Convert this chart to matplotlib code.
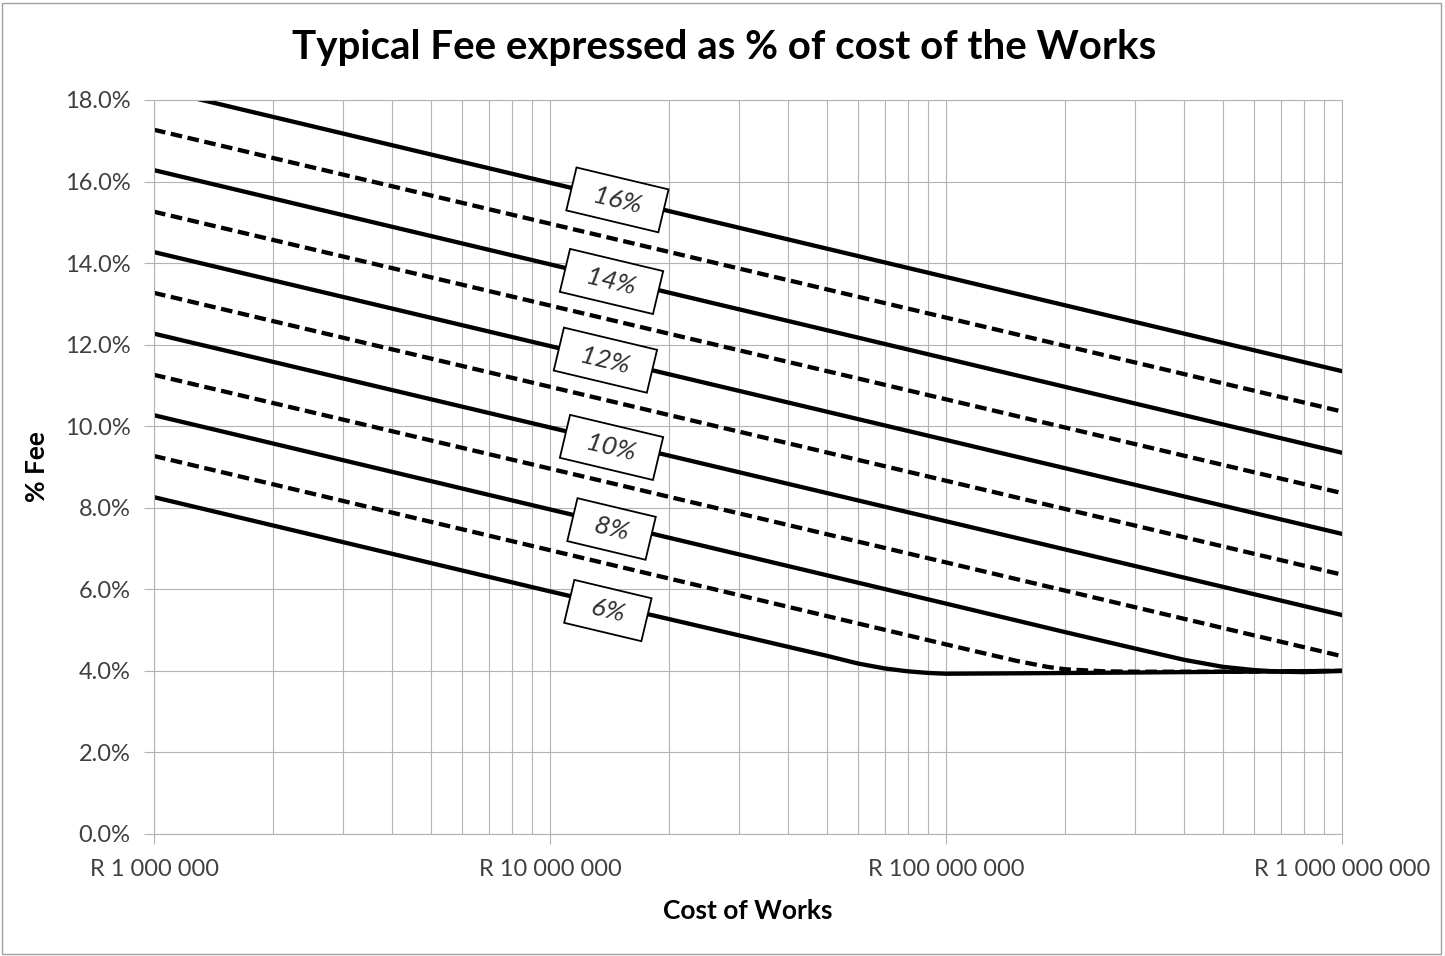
import matplotlib
matplotlib.use("Agg")
import matplotlib.pyplot as plt
from matplotlib.patches import Rectangle
from matplotlib.ticker import FixedLocator, FuncFormatter, LogLocator, NullFormatter

# ---- data (cost in Rand, fee in %) ----
cost_ends = [1e6, 1e9]
straight_lines = [
    [18.28, 11.35],
    [17.27, 10.36],
    [16.28, 9.35],
    [15.26, 8.36],
    [14.27, 7.36],
    [13.27, 6.36],
    [12.27, 5.37],
    [11.26, 4.36],
]
straight_dashed = [False, True, False, True, False, True, False, True]

# the three lowest curves bend onto the 4 % floor
cost_10 = [1e6, 1e7, 1e8, 2e8, 3e8, 4e8, 5e8, 6e8, 7e8, 8e8, 1e9]
fee_10 = [10.27, 7.96, 5.65, 4.95, 4.55, 4.27, 4.10, 4.02, 3.98, 3.97, 4.00]
cost_9 = [1e6, 1e7, 1e8, 1.2e8, 1.5e8, 1.8e8, 2e8, 2.5e8, 3e8, 5e8, 1e9]
fee_9 = [9.27, 6.96, 4.65, 4.47, 4.25, 4.10, 4.04, 3.99, 3.98, 3.98, 4.00]
cost_8 = [1e6, 1e7, 5e7, 6e7, 7e7, 8e7, 9e7, 1e8, 1.5e8, 3e8, 1e9]
fee_8 = [8.26, 5.95, 4.37, 4.18, 4.06, 3.99, 3.95, 3.93, 3.94, 3.96, 4.00]

labels = ["16%", "14%", "12%", "10%", "8%", "6%"]
label_cost = [1.48e7, 1.43e7, 1.38e7, 1.43e7, 1.43e7, 1.40e7]
label_fee = [15.55, 13.55, 11.62, 9.48, 7.48, 5.48]

title = "Typical Fee expressed as % of cost of the Works"
xlabel = "Cost of Works"
ylabel = "% Fee"

plt.rcParams["font.family"] = ["Lato", "DejaVu Sans"]

fig = plt.figure(figsize=(14.45, 9.56), dpi=100)
ax = fig.add_axes([154 / 1445, 1 - 834 / 956, (1342 - 154) / 1445, (834 - 100) / 956])

lw = 3.1
dash = (0, (2.7, 1.3))
for vals, d in zip(straight_lines, straight_dashed):
    ax.plot(cost_ends, vals, color="black", lw=lw, linestyle=dash if d else "-")
ax.plot(cost_10, fee_10, color="black", lw=lw)
ax.plot(cost_9, fee_9, color="black", lw=lw, linestyle=dash)
ax.plot(cost_8, fee_8, color="black", lw=lw)

ax.set_xscale("log")
ax.set_xlim(1e6, 1e9)
ax.set_ylim(0, 18)

grid_c = "#b3b3b3"
ax.xaxis.set_major_locator(FixedLocator([1e6, 1e7, 1e8, 1e9]))
ax.xaxis.set_minor_locator(LogLocator(base=10, subs=range(2, 10)))
ax.xaxis.set_minor_formatter(NullFormatter())
ax.xaxis.set_major_formatter(FuncFormatter(lambda v, p: "R " + f"{int(round(v)):,}".replace(",", " ")))
ax.yaxis.set_major_locator(FixedLocator([0, 2, 4, 6, 8, 10, 12, 14, 16, 18]))
ax.yaxis.set_major_formatter(FuncFormatter(lambda v, p: f"{v:.1f}%"))

ax.grid(True, which="both", axis="x", color=grid_c, lw=0.8)
ax.grid(True, which="major", axis="y", color=grid_c, lw=0.8)
ax.set_axisbelow(True)
for s in ax.spines.values():
    s.set_color(grid_c)
    s.set_linewidth(0.8)

ax.tick_params(axis="x", which="major", direction="out", length=7, width=0.8, color=grid_c,
               labelsize=17, labelcolor="#404040", pad=11)
ax.tick_params(axis="x", which="minor", length=0)
ax.tick_params(axis="y", direction="out", length=7, width=0.8, color=grid_c,
               labelsize=17, labelcolor="#404040", pad=10)

for t, xc, yc in zip(labels, label_cost, label_fee):
    ax.text(xc, yc, "  " + t + "  ", rotation=-13.4, rotation_mode="anchor", ha="center", va="center",
            fontsize=19, style="italic", color="#303030",
            bbox=dict(boxstyle="square,pad=0.4", fc="white", ec="black", lw=1.3))

fig.text(724 / 1445, 1 - 47 / 956, title, ha="center", va="center", fontsize=29, fontweight="bold")
fig.text(748 / 1445, 1 - 911 / 956, xlabel, ha="center", va="center", fontsize=19, fontweight="bold")
fig.text(37 / 1445, 1 - 467 / 956, ylabel, ha="center", va="center", fontsize=19, fontweight="bold",
         rotation=90)

fig.add_artist(Rectangle((0.0015, 0.002), 0.996, 0.995, transform=fig.transFigure, fill=False,
                         ec="#a0a0a0", lw=1))

fig.savefig("out.png", dpi=100)
